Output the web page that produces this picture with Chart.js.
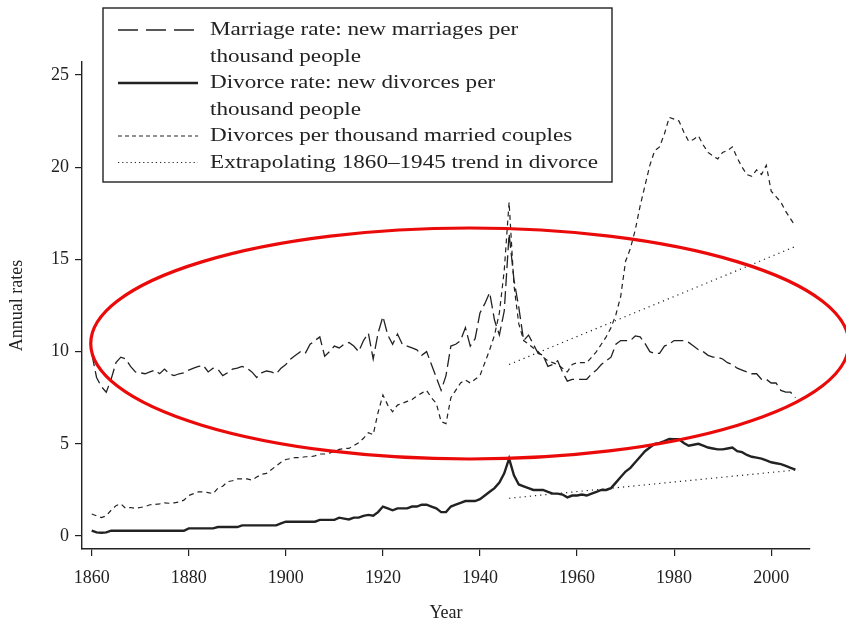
<!DOCTYPE html>
<html>
<head>
<meta charset="utf-8">
<script src="https://cdn.jsdelivr.net/npm/chart.js@4.4.1/dist/chart.umd.min.js"></script>
<style>
    html, body { margin: 0; padding: 0; background: #fff; }
    #wrap { width: 846px; height: 621px; position: relative; }
</style>
</head>
<body>
<div id="wrap"><canvas id="rates-chart" width="846" height="621"></canvas></div>
<script>
const firstYear = 1860;

// new marriages per thousand people, 1860-2005
const marriageRate = [
    9.9, 8.6, 8.1, 7.8, 8.5, 9.4, 9.7, 9.6, 9.2, 8.9,
    8.85, 8.8, 8.9, 9.0, 8.8, 9.05, 8.8, 8.7, 8.8, 8.85,
    9.0, 9.1, 9.2, 9.25, 8.9, 9.1, 9.05, 8.7, 8.85, 9.05,
    9.1, 9.2, 9.1, 8.9, 8.6, 8.85, 8.95, 8.9, 8.8, 9.1,
    9.3, 9.6, 9.8, 10.0, 9.9, 10.4, 10.6, 10.8, 9.75, 10.0,
    10.3, 10.2, 10.4, 10.5, 10.3, 10.0, 10.6, 11.0, 9.6, 11.0,
    11.9, 10.9, 10.4, 10.95, 10.4, 10.3, 10.2, 10.1, 9.8, 10.0,
    9.3, 8.6, 7.9, 8.7, 10.3, 10.4, 10.6, 11.3, 10.3, 10.7,
    12.1, 12.6, 13.2, 11.7, 10.9, 12.2, 16.4, 13.9, 12.4, 10.6,
    10.9, 10.4, 9.9, 9.8, 9.2, 9.3, 9.5, 8.9, 8.4, 8.5,
    8.5, 8.5, 8.5, 8.8, 9.0, 9.3, 9.5, 9.7, 10.4, 10.6,
    10.6, 10.6, 10.85, 10.8, 10.45, 10.0, 9.9, 9.9, 10.3, 10.4,
    10.6, 10.6, 10.6, 10.5, 10.3, 10.1, 10.0, 9.8, 9.7, 9.7,
    9.6, 9.4, 9.3, 9.1, 9.0, 8.9, 8.8, 8.8, 8.5, 8.5,
    8.3, 8.3, 7.9, 7.8, 7.8, 7.5
];

// new divorces per thousand people, 1860-2005
const divorceRate = [
    0.3, 0.2, 0.18, 0.2, 0.29, 0.29, 0.29, 0.29, 0.29, 0.29,
    0.29, 0.29, 0.29, 0.29, 0.29, 0.29, 0.29, 0.29, 0.29, 0.29,
    0.42, 0.42, 0.42, 0.42, 0.42, 0.42, 0.49, 0.49, 0.49, 0.49,
    0.49, 0.58, 0.58, 0.58, 0.58, 0.58, 0.58, 0.58, 0.58, 0.69,
    0.78, 0.78, 0.78, 0.78, 0.78, 0.78, 0.78, 0.88, 0.88, 0.88,
    0.88, 1.0, 0.95, 0.9, 1.0, 1.0, 1.1, 1.15, 1.1, 1.3,
    1.6, 1.5, 1.4, 1.5, 1.5, 1.5, 1.6, 1.6, 1.7, 1.7,
    1.6, 1.5, 1.3, 1.3, 1.6, 1.7, 1.8, 1.9, 1.9, 1.9,
    2.0, 2.2, 2.4, 2.6, 2.9, 3.4, 4.2, 3.3, 2.8, 2.7,
    2.6, 2.5, 2.5, 2.5, 2.4, 2.3, 2.3, 2.25, 2.1, 2.2,
    2.2, 2.25, 2.2, 2.3, 2.4, 2.5, 2.5, 2.6, 2.9, 3.2,
    3.5, 3.7, 4.0, 4.3, 4.6, 4.8, 5.0, 5.05, 5.15, 5.27,
    5.25, 5.25, 5.05, 4.9, 4.95, 5.0, 4.9, 4.8, 4.75, 4.7,
    4.7, 4.75, 4.8, 4.6, 4.55, 4.4, 4.3, 4.25, 4.2, 4.1,
    4.0, 3.95, 3.9, 3.8, 3.7, 3.6
];

// divorces per thousand married couples, 1860-2005
const divorcesPerCouple = [
    1.2, 1.1, 1.0, 1.1, 1.4, 1.65, 1.75, 1.5, 1.55, 1.5,
    1.55, 1.6, 1.7, 1.72, 1.75, 1.8, 1.78, 1.8, 1.85, 1.95,
    2.2, 2.3, 2.4, 2.4, 2.36, 2.3, 2.6, 2.7, 2.95, 3.0,
    3.1, 3.1, 3.1, 3.04, 3.2, 3.35, 3.4, 3.6, 3.8, 4.0,
    4.15, 4.2, 4.26, 4.25, 4.3, 4.3, 4.35, 4.45, 4.45, 4.5,
    4.6, 4.7, 4.75, 4.75, 4.9, 5.06, 5.3, 5.6, 5.5, 6.7,
    7.65, 7.1, 6.74, 7.1, 7.2, 7.3, 7.4, 7.6, 7.75, 7.9,
    7.5, 7.2, 6.2, 6.1, 7.5, 7.9, 8.3, 8.46, 8.3, 8.5,
    8.7, 9.4, 10.1, 10.9, 12.1, 14.4, 18.1, 13.6, 11.5, 10.6,
    10.4, 10.2, 10.0, 9.7, 9.5, 9.4, 9.3, 9.1, 8.9, 9.3,
    9.4, 9.4, 9.4, 9.7, 10.0, 10.4, 10.8, 11.3, 12.0, 13.0,
    14.9, 15.6, 16.6, 17.9, 19.0, 20.1, 20.9, 21.1, 21.8, 22.7,
    22.6, 22.5, 21.9, 21.4, 21.5, 21.7, 21.2, 20.8, 20.6, 20.45,
    20.8, 20.9, 21.1, 20.5, 20.0, 19.6, 19.5, 19.85, 19.6, 20.1,
    18.7, 18.4, 18.1, 17.6, 17.2, 16.8
];

// 1860-1945 trend carried forward
const trendYears = [1946, 2005];
const trendPerCouple = [9.3, 15.7];
const trendDivorceRate = [2.05, 3.58];

const xTicks = [1860, 1880, 1900, 1920, 1940, 1960, 1980, 2000];
const yTicks = [0, 5, 10, 15, 20, 25];

const legendRows = [
    { lines: ['Marriage rate: new marriages per', 'thousand people'], dash: [20, 8], width: 1.3 },
    { lines: ['Divorce rate: new divorces per', 'thousand people'], dash: [], width: 2.6 },
    { lines: ['Divorces per thousand married couples'], dash: [4, 3], width: 1.2 },
    { lines: ['Extrapolating 1860\u20131945 trend in divorce'], dash: [1.2, 3], width: 1.2 },
];

// red highlight ellipse, in data units
const highlightCenter = [1937.9, 10.44];
const highlightRadius = [78.1, 6.26];

const ink = '#222';
const serif = "'Liberation Serif', 'DejaVu Serif', serif";

const toPoints = (values) => values.map((v, i) => ({ x: firstYear + i, y: v }));
const trendPoints = (values) => values.map((v, i) => ({ x: trendYears[i], y: v }));

const highlightPlugin = {
    id: 'highlight',
    afterDatasetsDraw(chart) {
        const { ctx, scales } = chart;
        const cx = scales.x.getPixelForValue(highlightCenter[0]);
        const cy = scales.y.getPixelForValue(highlightCenter[1]);
        const rx = scales.x.getPixelForValue(highlightCenter[0] + highlightRadius[0]) - cx;
        const ry = cy - scales.y.getPixelForValue(highlightCenter[1] + highlightRadius[1]);
        ctx.save();
        ctx.strokeStyle = '#eb0a0a';
        ctx.lineWidth = 3.2;
        ctx.beginPath();
        ctx.ellipse(cx, cy, rx, ry, 0, 0, Math.PI * 2);
        ctx.stroke();
        ctx.restore();
    },
};

const legendPlugin = {
    id: 'boxLegend',
    afterDraw(chart) {
        const ctx = chart.ctx;
        const box = { left: 103, top: 8, right: 612, bottom: 182 };
        const rowHeight = 26.5;
        const textLeft = 210;
        const textRight = 598; // longest row ends here in the original
        ctx.save();
        ctx.fillStyle = '#fff';
        ctx.fillRect(box.left, box.top, box.right - box.left, box.bottom - box.top);
        ctx.strokeStyle = ink;
        ctx.lineWidth = 1.4;
        ctx.setLineDash([]);
        ctx.strokeRect(box.left, box.top, box.right - box.left, box.bottom - box.top);

        ctx.font = '19.5px ' + serif;
        ctx.fillStyle = ink;
        ctx.textBaseline = 'middle';
        const longest = Math.max(...legendRows.flatMap((r) => r.lines).map((t) => ctx.measureText(t).width));
        const stretch = (textRight - textLeft) / longest;
        let y = box.top + 22;
        legendRows.forEach((row) => {
            ctx.beginPath();
            ctx.setLineDash(row.dash);
            ctx.lineWidth = row.width;
            ctx.moveTo(118, y);
            ctx.lineTo(198, y);
            ctx.stroke();
            ctx.setLineDash([]);
            row.lines.forEach((line) => {
                ctx.save();
                ctx.translate(textLeft, y);
                ctx.scale(stretch, 1);
                ctx.fillText(line, 0, 0);
                ctx.restore();
                y += rowHeight;
            });
        });
        ctx.restore();
    },
};

new Chart(document.getElementById('rates-chart').getContext('2d'), {
    type: 'line',
    data: {
        datasets: [
            {
                label: 'Marriage rate',
                data: toPoints(marriageRate),
                borderColor: ink,
                borderWidth: 1.3,
                borderDash: [13, 5],
            },
            {
                label: 'Divorce rate',
                data: toPoints(divorceRate),
                borderColor: ink,
                borderWidth: 2.4,
            },
            {
                label: 'Divorces per thousand married couples',
                data: toPoints(divorcesPerCouple),
                borderColor: ink,
                borderWidth: 1.2,
                borderDash: [5, 4],
            },
            {
                label: 'Trend (couples)',
                data: trendPoints(trendPerCouple),
                borderColor: ink,
                borderWidth: 1.2,
                borderDash: [1.2, 4],
            },
            {
                label: 'Trend (divorce rate)',
                data: trendPoints(trendDivorceRate),
                borderColor: ink,
                borderWidth: 1.2,
                borderDash: [1.2, 4],
            },
        ],
    },
    options: {
        responsive: false,
        animation: false,
        layout: { padding: { left: 0, top: 62, right: 36, bottom: 0 } },
        elements: {
            point: { radius: 0 },
            line: { tension: 0, fill: false },
        },
        plugins: {
            legend: { display: false },
            tooltip: { enabled: false },
        },
        scales: {
            x: {
                type: 'linear',
                min: 1858,
                max: 2008,
                afterFit: (scale) => { scale.height = 72; },
                afterBuildTicks: (scale) => { scale.ticks = xTicks.map((v) => ({ value: v })); },
                grid: { display: true, drawOnChartArea: false, drawTicks: true, tickLength: 7, color: ink, lineWidth: 1.2 },
                border: { display: true, color: ink, width: 1.4 },
                ticks: {
                    color: ink,
                    font: { family: serif, size: 18 },
                    padding: 11,
                    maxRotation: 0,
                    callback: (value) => String(value),
                },
                title: { display: true, text: 'Year', color: ink, font: { family: serif, size: 18 }, padding: { top: 0, bottom: -3 } },
            },
            y: {
                type: 'linear',
                min: -0.7,
                max: 25.7,
                afterFit: (scale) => { scale.width = 82; },
                afterBuildTicks: (scale) => { scale.ticks = yTicks.map((v) => ({ value: v })); },
                grid: { display: true, drawOnChartArea: false, drawTicks: true, tickLength: 7, color: ink, lineWidth: 1.2 },
                border: { display: true, color: ink, width: 1.4 },
                ticks: { color: ink, font: { family: serif, size: 18 }, padding: 6, callback: (value) => String(value) },
                title: { display: true, text: 'Annual rates', color: ink, font: { family: serif, size: 18 }, padding: { top: 6, bottom: 0 } },
            },
        },
    },
    plugins: [highlightPlugin, legendPlugin],
});
</script>
</body>
</html>
